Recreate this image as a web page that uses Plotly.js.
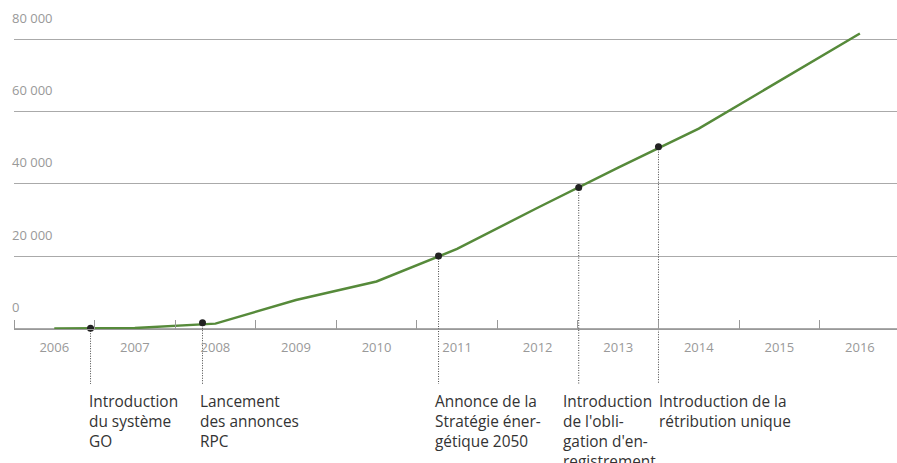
<!DOCTYPE html>
<html>
<head>
<meta charset="utf-8">
<script src="https://cdn.plot.ly/plotly-3.0.1.min.js"></script>
<style>html,body{margin:0;padding:0;background:#fff;}#chart{width:897px;height:463px;}</style>
</head>
<body>
<div id="chart"></div>
<script>
// ---- data ----
const years = [2006, 2007, 2008, 2009, 2010, 2011, 2012, 2013, 2014, 2015, 2016];
const yearLabels = ['2006','2007','2008','2009','2010','2011','2012','2013','2014','2015','2016'];
const installations = [0, 150, 1350, 7900, 13000, 22000, 33400, 44500, 55300, 68400, 81600];
const eventX = [2006.45, 2007.84, 2010.77, 2012.51, 2013.50];
const eventY = [80, 1600, 20050, 39000, 50300];
const eventLabels = [
  'Introduction<br>du système<br>GO',
  'Lancement<br>des annonces<br>RPC',
  'Annonce de la<br>Stratégie éner-<br>gétique 2050',
  'Introduction<br>de l\'obli-<br>gation d\'en-<br>registrement',
  'Introduction de la<br>rétribution unique'
];
const eventLabelX = [2006.42, 2007.80, 2010.71, 2012.30, 2013.50];
const yTicks = [0, 20000, 40000, 60000, 80000];
const yTickLabels = ['0', '20 000', '40 000', '60 000', '80 000'];

// ---- layout helpers ----
const yRange = [-15900, 83950];
const xRange = [2005.5, 2005.5 + 883 / 80.56];
const leaderBottom = -15350;
const axisPos = (0 - yRange[0]) / (yRange[1] - yRange[0]);

const traces = [];
// dotted leader lines
eventX.forEach((ex, i) => {
  traces.push({
    x: [ex, ex], y: [eventY[i], leaderBottom], mode: 'lines', type: 'scatter',
    line: {color: '#444', width: 1, dash: '1px,1.5px'}, hoverinfo: 'skip', showlegend: false
  });
});
traces.push({
  x: years, y: installations, mode: 'lines', type: 'scatter',
  line: {color: '#568a3a', width: 2.5}, showlegend: false
});
traces.push({
  x: eventX, y: eventY, mode: 'markers', type: 'scatter',
  marker: {color: '#222', size: 7}, showlegend: false, cliponaxis: false
});

const annotations = eventLabels.map((t, i) => ({
  text: t, x: eventLabelX[i], xref: 'x', xanchor: 'left',
  y: -0.012, yref: 'paper', yanchor: 'top', align: 'left',
  showarrow: false, borderpad: 0,
  font: {family: 'Open Sans, Noto Sans, sans-serif', size: 15.4, color: '#333'}
}));

const layout = {
  width: 897, height: 463,
  margin: {l: 14, r: 0, t: 25, b: 77},
  paper_bgcolor: '#fff', plot_bgcolor: '#fff',
  showlegend: false,
  font: {family: 'Open Sans, Noto Sans, sans-serif'},
  xaxis: {
    range: xRange, tickmode: 'array', tickvals: years, ticktext: yearLabels,
    ticks: '', showgrid: false, zeroline: false,
    showline: true, linecolor: '#999', linewidth: 1,
    anchor: 'free', position: axisPos,
    ticklabelstandoff: 7,
    minor: {tickmode: 'linear', tick0: 2005.5, dtick: 1, ticks: 'inside', ticklen: 9, tickcolor: '#999', tickwidth: 1, showgrid: false},
    tickfont: {family: 'Open Sans, Noto Sans, sans-serif', size: 13, color: '#999'},
    fixedrange: true
  },
  yaxis: {
    range: yRange, tickmode: 'array', tickvals: yTicks, ticktext: yTickLabels,
    showgrid: true, gridcolor: '#aaa', gridwidth: 1, zeroline: false, showline: false, ticks: '',
    ticklabelposition: 'inside', ticklabelshift: -21, ticklabelstandoff: -5, ticklabeloverflow: 'allow',
    tickfont: {family: 'Open Sans, Noto Sans, sans-serif', size: 13, color: '#999'},
    fixedrange: true
  },
  annotations: annotations
};

Plotly.newPlot('chart', traces, layout, {displayModeBar: false, staticPlot: true});
</script>
</body>
</html>
